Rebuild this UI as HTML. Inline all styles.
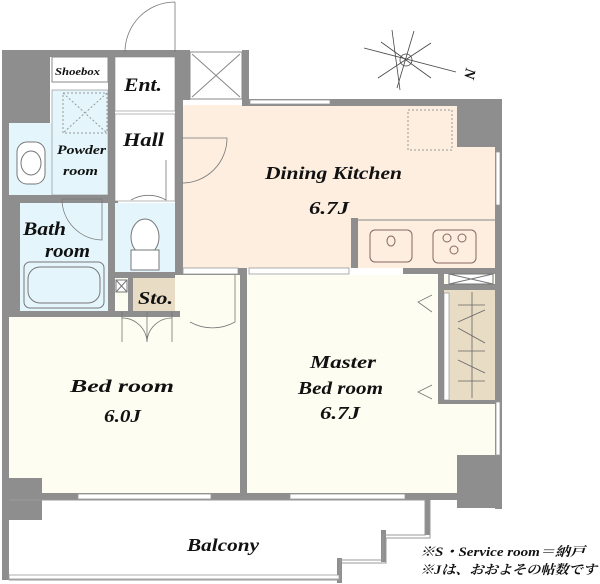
<!DOCTYPE html>
<html><head><meta charset="utf-8"><style>
html,body{margin:0;padding:0;background:#fff;}
svg{display:block;}
text{font-family:"Liberation Serif","Noto Serif CJK SC",serif;font-weight:bold;font-style:italic;fill:#111;}
</style></head><body>
<svg width="600" height="584" viewBox="0 0 600 584" xmlns="http://www.w3.org/2000/svg">
<rect x="182" y="105" width="313" height="163" fill="#fdeee0"/>
<rect x="8" y="275" width="487" height="220" fill="#fdfdf2"/>
<rect x="8" y="123" width="100" height="72" fill="#e4f6fb"/>
<rect x="20" y="203" width="88" height="108" fill="#e4f6fb"/>
<rect x="115" y="203" width="60" height="70" fill="#e4f6fb"/>
<rect x="133" y="278" width="42" height="33" fill="#e8dcc4"/>
<rect x="443" y="290" width="54" height="112" fill="#e8dcc4"/>
<g fill="#8e8e8e">
<rect x="2" y="50" width="180" height="7"/>
<rect x="2" y="50" width="48" height="73"/>
<rect x="2" y="50" width="7" height="530"/>
<rect x="108" y="57" width="7" height="140"/>
<rect x="175" y="50" width="8" height="225"/>
<rect x="182" y="50" width="8" height="50"/>
<rect x="242" y="50" width="7" height="55"/>
<rect x="242" y="99" width="260" height="7"/>
<rect x="495" y="99" width="7" height="410"/>
<rect x="457" y="105" width="40" height="42"/>
<rect x="8" y="195" width="110" height="8"/>
<rect x="8" y="195" width="12" height="120"/>
<rect x="108" y="195" width="7" height="120"/>
<rect x="8" y="311" width="172" height="6"/>
<rect x="115" y="272" width="60" height="6"/>
<rect x="128" y="278" width="5" height="33"/>
<rect x="182" y="268" width="65" height="7"/>
<rect x="240" y="268" width="7" height="228"/>
<rect x="351" y="218" width="7" height="50"/>
<rect x="403" y="268" width="94" height="6"/>
<rect x="438" y="268" width="6" height="135"/>
<rect x="438" y="284" width="59" height="6"/>
<rect x="438" y="400" width="59" height="4"/>
<rect x="457" y="455" width="43" height="53"/>
<rect x="8" y="478" width="34" height="42"/>
<rect x="8" y="493" width="490" height="7"/>
<rect x="425" y="500" width="5" height="35"/>
<rect x="381" y="530" width="5" height="32"/>
<rect x="337" y="558" width="5" height="25"/>
</g>
<g fill="#fff" stroke="#999" stroke-width="0.8">
<rect x="78" y="494" width="133" height="5"/>
<rect x="290" y="494" width="115" height="5"/>
<rect x="496" y="402" width="4" height="53"/>
<rect x="496" y="152" width="4" height="53"/>
<rect x="250" y="100" width="80" height="4"/>
<rect x="183" y="268" width="55" height="6"/>
<rect x="249" y="268" width="100" height="6"/>
</g>
<polyline points="9,500 425,500 425,535 383,535 383,560 340,560 340,580 9,580" fill="none" stroke="#999" stroke-width="1"/>
<rect x="9" y="575" width="330" height="4" fill="#fff" stroke="#999" stroke-width="0.8"/>
<polyline points="430,500 430,538 386,538 386,563 342,563" fill="none" stroke="#999"/>
<rect x="52" y="57" width="56" height="25" fill="#fff" stroke="#888"/>
<rect x="52" y="90" width="56" height="105" fill="#e4f6fb" stroke="#888" stroke-width="0.6"/>
<rect x="63" y="93" width="44" height="40" fill="none" stroke="#999" stroke-dasharray="2,2"/>
<line x1="63" y1="93" x2="107" y2="133" stroke="#999" stroke-dasharray="2,2"/>
<line x1="107" y1="93" x2="63" y2="133" stroke="#999" stroke-dasharray="2,2"/>
<rect x="115" y="57" width="60" height="54" fill="#fff" stroke="#888" stroke-width="0.6"/>
<rect x="115" y="114" width="60" height="87" fill="#fff" stroke="#888" stroke-width="0.6"/>
<rect x="190" y="52" width="52" height="47" fill="#fff" stroke="#888"/>
<line x1="192" y1="54" x2="240" y2="97" stroke="#888"/><line x1="240" y1="54" x2="192" y2="97" stroke="#888"/>
<g fill="none" stroke="#777" stroke-width="0.8">
<path d="M175,2 L175,52 M175,2 A50,50 0 0 0 125,52"/>
<path d="M182,138 L227,138 A45,45 0 0 1 182,183"/>
<path d="M166,160 L166,200 A35,35 0 0 0 131,200"/>
<path d="M62,199 L102,199 L102,240 A41,41 0 0 1 62,199"/>
<path d="M235,275 L235,322 A46,46 0 0 1 190,322"/>
<path d="M147,312 L147,342 A25,25 0 0 0 122,318 M147,312 L147,342 A25,25 0 0 1 172,318"/>
<path d="M122,312 L122,342 M172,312 L172,342"/>
<path d="M432,295 L418,302 L432,312 M432,385 L418,392 L432,399"/>
</g>
<rect x="17" y="142" width="28" height="42" rx="10" fill="#fff" stroke="#777"/>
<ellipse cx="31" cy="163" rx="10" ry="12" fill="none" stroke="#777"/>
<rect x="24" y="262" width="80" height="46" rx="6" fill="#e4f6fb" stroke="#777"/>
<rect x="28" y="267" width="72" height="36" rx="12" fill="none" stroke="#777"/>
<ellipse cx="145" cy="237" rx="14" ry="18" fill="#fff" stroke="#777"/>
<rect x="131" y="250" width="28" height="20" fill="#fff" stroke="#777"/>
<rect x="116" y="280" width="11" height="12" fill="#fff" stroke="#777"/>
<line x1="116" y1="280" x2="127" y2="292" stroke="#777"/><line x1="127" y1="280" x2="116" y2="292" stroke="#777"/>
<line x1="358" y1="220" x2="495" y2="220" stroke="#888"/>
<rect x="408" y="110" width="44" height="40" fill="none" stroke="#999" stroke-dasharray="2,2"/>
<rect x="370" y="230" width="42" height="32" rx="5" fill="none" stroke="#866"/>
<ellipse cx="391" cy="241" rx="4" ry="5" fill="none" stroke="#866"/>
<rect x="433" y="230" width="43" height="33" rx="5" fill="none" stroke="#866"/>
<circle cx="447" cy="238" r="4" fill="none" stroke="#866"/><circle cx="462" cy="238" r="4" fill="none" stroke="#866"/><circle cx="454" cy="250" r="4" fill="none" stroke="#866"/>
<rect x="449" y="274" width="44" height="10" fill="#fff" stroke="#777"/>
<line x1="449" y1="274" x2="493" y2="284" stroke="#777"/><line x1="493" y1="274" x2="449" y2="284" stroke="#777"/>
<g stroke="#666" stroke-width="0.8">
<line x1="472" y1="292" x2="472" y2="398"/>
<line x1="458" y1="305" x2="485" y2="305"/><line x1="458" y1="351" x2="485" y2="351"/><line x1="458" y1="381" x2="485" y2="381"/>
<line x1="458" y1="322" x2="485" y2="310"/><line x1="458" y1="328" x2="485" y2="343"/><line x1="458" y1="360" x2="485" y2="373"/>
</g>
<rect x="444" y="293" width="5" height="107" fill="#fff" stroke="#888" stroke-width="0.6"/>
<g stroke="#444" stroke-width="0.8" fill="none">
<line x1="364" y1="48" x2="456" y2="72"/>
<line x1="392" y1="30" x2="400" y2="90"/>
<line x1="414" y1="31" x2="397" y2="88"/>
<line x1="378" y1="78" x2="431" y2="43"/>
<line x1="381" y1="42" x2="431" y2="78"/>
<circle cx="406" cy="60" r="6"/>
</g>
<text x="456" y="70" font-size="15" transform="rotate(100 462 73)">N</text>
<g lengthAdjust="spacingAndGlyphs">
<text x="55" y="75" font-size="10" textLength="45" lengthAdjust="spacingAndGlyphs">Shoebox</text>
<text x="124" y="91" font-size="19" textLength="38" lengthAdjust="spacingAndGlyphs">Ent.</text>
<text x="123" y="146" font-size="19" textLength="41" lengthAdjust="spacingAndGlyphs">Hall</text>
<text x="57" y="154" font-size="13" textLength="49" lengthAdjust="spacingAndGlyphs">Powder</text>
<text x="63" y="175" font-size="13" textLength="35" lengthAdjust="spacingAndGlyphs">room</text>
<text x="23" y="235" font-size="19" textLength="43" lengthAdjust="spacingAndGlyphs">Bath</text>
<text x="45" y="257" font-size="19" textLength="45" lengthAdjust="spacingAndGlyphs">room</text>
<text x="138" y="304" font-size="18" textLength="35" lengthAdjust="spacingAndGlyphs">Sto.</text>
<text x="265" y="179" font-size="18" textLength="137" lengthAdjust="spacingAndGlyphs">Dining Kitchen</text>
<text x="309" y="214" font-size="18" textLength="40" lengthAdjust="spacingAndGlyphs">6.7J</text>
<text x="70" y="392" font-size="18" textLength="104" lengthAdjust="spacingAndGlyphs">Bed room</text>
<text x="104" y="422" font-size="18" textLength="37" lengthAdjust="spacingAndGlyphs">6.0J</text>
<text x="310" y="368" font-size="18" textLength="66" lengthAdjust="spacingAndGlyphs">Master</text>
<text x="298" y="394" font-size="18" textLength="85" lengthAdjust="spacingAndGlyphs">Bed room</text>
<text x="320" y="419" font-size="18" textLength="40" lengthAdjust="spacingAndGlyphs">6.7J</text>
<text x="187" y="551" font-size="18" textLength="72" lengthAdjust="spacingAndGlyphs">Balcony</text>
<text x="420" y="556" font-size="13" font-weight="normal" textLength="165" lengthAdjust="spacingAndGlyphs">※S・Service room＝納戸</text>
<text x="420" y="574" font-size="13" font-weight="normal" textLength="177" lengthAdjust="spacingAndGlyphs">※Jは、おおよその帖数です</text>
</g>
</svg>
</body></html>
